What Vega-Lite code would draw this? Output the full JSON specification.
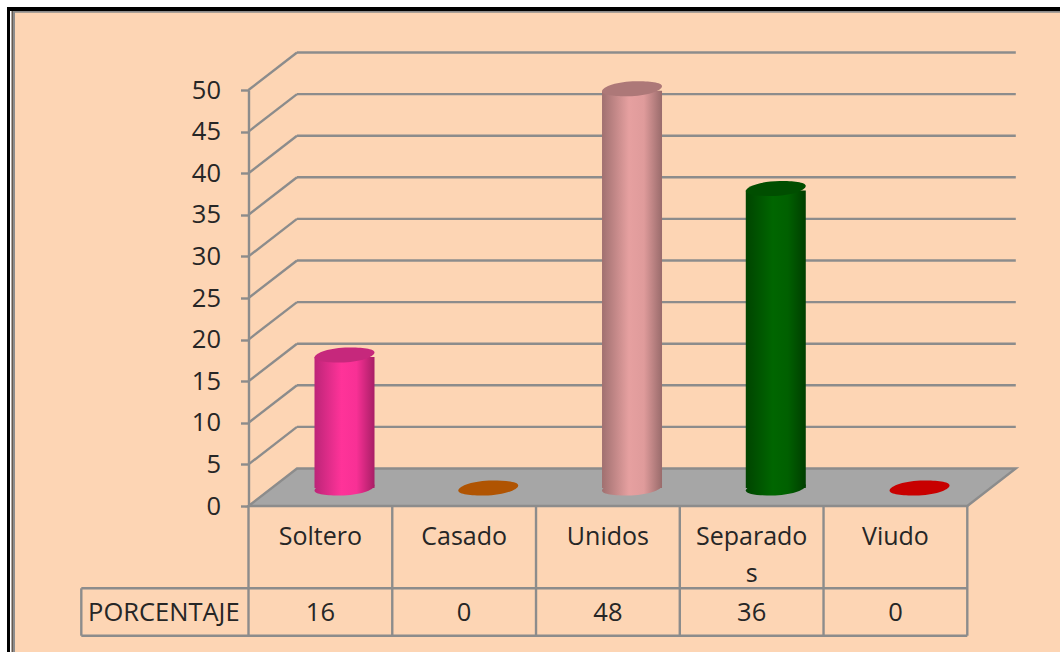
{
"$schema":"https://vega.github.io/schema/vega-lite/v6.json",
"width":718.8,"height":416,"autosize":"none",
"padding":{"left":248.5,"top":90,"right":92.7,"bottom":146},
"background":"#FDD5B4",
"config":{"view":{"stroke":null}},
"datasets":{
"cats":[
{"cat":"Soltero","label":"Soltero","i":0,"pct":16},
{"cat":"Casado","label":"Casado","i":1,"pct":0},
{"cat":"Unidos","label":"Unidos","i":2,"pct":48},
{"cat":"Separados","label":"Separado\ns","i":3,"pct":36},
{"cat":"Viudo","label":"Viudo","i":4,"pct":0}],
"ticks":[{"v":0},{"v":5},{"v":10},{"v":15},{"v":20},{"v":25},{"v":30},{"v":35},{"v":40},{"v":45},{"v":50}],
"seps":[{"i":0},{"i":1},{"i":2},{"i":3},{"i":4},{"i":5}],
"one":[{}]
},
"data":{"name":"one"},
"layer":[
{"data":{"name":"ticks"},"transform":[{"filter":"datum.v>0"}],
 "mark":{"type":"rule","stroke":"#8C8C8C","strokeWidth":2.4,"y2Offset":-37.5,"x2Offset":48.5},
 "encoding":{"x":{"datum":0,"type":"quantitative","axis":null,"scale":{"domain":[0,5],"nice":false,"zero":false}},"x2":{"datum":0},
 "y":{"field":"v","type":"quantitative","scale":{"domain":[0,50],"nice":false,"zero":false},
 "axis":{"title":null,"values":[0,5,10,15,20,25,30,35,40,45,50],"grid":false,"domain":true,"domainColor":"#8C8C8C","domainWidth":2.4,"tickColor":"#8C8C8C","tickWidth":2.4,"tickSize":8,"labelFont":"Open Sans","labelFontSize":25.5,"labelColor":"#262626","labelPadding":20,"labelOverlap":false,"labelBound":false,"labelFlush":false}},"y2":{"field":"v"}}},
{"data":{"name":"ticks"},"transform":[{"filter":"datum.v>0"}],
 "mark":{"type":"rule","stroke":"#8C8C8C","strokeWidth":2.4,"yOffset":-37.5},
 "encoding":{"x":{"datum":0.3374,"type":"quantitative","axis":null,"scale":{"domain":[0,5],"nice":false,"zero":false}},"x2":{"datum":5.3374},
 "y":{"field":"v","type":"quantitative","scale":{"domain":[0,50],"nice":false,"zero":false}}}},
{"mark":{"type":"point","shape":"M0,0 L48.5,-37.5 L767.3,-37.5 L718.8,0 Z","size":4,"filled":true,"fill":"#A6A6A6","stroke":"#8C8C8C","strokeWidth":2.4,"opacity":1},
 "encoding":{"x":{"datum":0,"type":"quantitative","axis":null,"scale":{"domain":[0,5],"nice":false,"zero":false}},
 "y":{"datum":0,"type":"quantitative","scale":{"domain":[0,50],"nice":false,"zero":false}}}},
{"data":{"name":"seps"},
 "mark":{"type":"rule","stroke":"#8C8C8C","strokeWidth":2.4},
 "encoding":{"x":{"field":"i","type":"quantitative","axis":null,"scale":{"domain":[0,5],"nice":false,"zero":false}},
 "y":{"datum":0,"type":"quantitative","scale":{"domain":[0,50],"nice":false,"zero":false}},"y2":{"datum":-15.59}}},
{"mark":{"type":"rule","stroke":"#8C8C8C","strokeWidth":2.4},
 "encoding":{"x":{"datum":-1.163,"type":"quantitative","axis":null,"scale":{"domain":[0,5],"nice":false,"zero":false}},
 "y":{"datum":-9.89,"type":"quantitative","scale":{"domain":[0,50],"nice":false,"zero":false}},"y2":{"datum":-15.59}}},
{"mark":{"type":"rule","stroke":"#8C8C8C","strokeWidth":2.4},
 "encoding":{"x":{"datum":-1.163,"type":"quantitative","axis":null,"scale":{"domain":[0,5],"nice":false,"zero":false}},"x2":{"datum":5},
 "y":{"datum":-9.89,"type":"quantitative","scale":{"domain":[0,50],"nice":false,"zero":false}}}},
{"mark":{"type":"rule","stroke":"#8C8C8C","strokeWidth":2.4},
 "encoding":{"x":{"datum":-1.163,"type":"quantitative","axis":null,"scale":{"domain":[0,5],"nice":false,"zero":false}},"x2":{"datum":5},
 "y":{"datum":-15.59,"type":"quantitative","scale":{"domain":[0,50],"nice":false,"zero":false}}}},
{"data":{"name":"cats"},"transform":[{"filter":"datum.cat==='Soltero'"}],
 "mark":{"type":"point","shape":"M-30,2.5 C-30,-2 -14,-7.5 4,-7.5 C17,-7.5 30,-6.5 30,-2.5 C30,2 14,7.5 -4,7.5 C-17,7.5 -30,6.5 -30,2.5 Z","size":4,"filled":true,"opacity":1,"xOffset":96,"yOffset":-18,"fill":{"gradient":"linear","x1":0,"y1":0,"x2":1,"y2":0,"stops":[{"offset":0,"color":"#BC2578"},{"offset":0.45,"color":"#FF3399"},{"offset":0.7,"color":"#F83095"},{"offset":1,"color":"#A81E66"}]}},
 "encoding":{"x":{"field":"i","type":"quantitative","axis":null,"scale":{"domain":[0,5],"nice":false,"zero":false}},
 "y":{"datum":0,"type":"quantitative","scale":{"domain":[0,50],"nice":false,"zero":false}}}},
{"data":{"name":"cats"},"transform":[{"filter":"datum.cat==='Soltero'"}],
 "mark":{"type":"rect","xOffset":66,"x2Offset":126,"yOffset":-16,"y2Offset":-18,"fill":{"gradient":"linear","x1":0,"y1":0,"x2":1,"y2":0,"stops":[{"offset":0,"color":"#BC2578"},{"offset":0.45,"color":"#FF3399"},{"offset":0.7,"color":"#F83095"},{"offset":1,"color":"#A81E66"}]}},
 "encoding":{"x":{"field":"i","type":"quantitative","axis":null,"scale":{"domain":[0,5],"nice":false,"zero":false}},"x2":{"field":"i"},
 "y":{"field":"pct","type":"quantitative","scale":{"domain":[0,50],"nice":false,"zero":false}},"y2":{"datum":0}}},
{"data":{"name":"cats"},"transform":[{"filter":"datum.cat==='Unidos'"}],
 "mark":{"type":"point","shape":"M-30,2.5 C-30,-2 -14,-7.5 4,-7.5 C17,-7.5 30,-6.5 30,-2.5 C30,2 14,7.5 -4,7.5 C-17,7.5 -30,6.5 -30,2.5 Z","size":4,"filled":true,"opacity":1,"xOffset":96,"yOffset":-18,"fill":{"gradient":"linear","x1":0,"y1":0,"x2":1,"y2":0,"stops":[{"offset":0,"color":"#A07070"},{"offset":0.45,"color":"#E6A0A0"},{"offset":0.7,"color":"#DF9B9B"},{"offset":1,"color":"#996B6B"}]}},
 "encoding":{"x":{"field":"i","type":"quantitative","axis":null,"scale":{"domain":[0,5],"nice":false,"zero":false}},
 "y":{"datum":0,"type":"quantitative","scale":{"domain":[0,50],"nice":false,"zero":false}}}},
{"data":{"name":"cats"},"transform":[{"filter":"datum.cat==='Unidos'"}],
 "mark":{"type":"rect","xOffset":66,"x2Offset":126,"yOffset":-16,"y2Offset":-18,"fill":{"gradient":"linear","x1":0,"y1":0,"x2":1,"y2":0,"stops":[{"offset":0,"color":"#A07070"},{"offset":0.45,"color":"#E6A0A0"},{"offset":0.7,"color":"#DF9B9B"},{"offset":1,"color":"#996B6B"}]}},
 "encoding":{"x":{"field":"i","type":"quantitative","axis":null,"scale":{"domain":[0,5],"nice":false,"zero":false}},"x2":{"field":"i"},
 "y":{"field":"pct","type":"quantitative","scale":{"domain":[0,50],"nice":false,"zero":false}},"y2":{"datum":0}}},
{"data":{"name":"cats"},"transform":[{"filter":"datum.cat==='Separados'"}],
 "mark":{"type":"point","shape":"M-30,2.5 C-30,-2 -14,-7.5 4,-7.5 C17,-7.5 30,-6.5 30,-2.5 C30,2 14,7.5 -4,7.5 C-17,7.5 -30,6.5 -30,2.5 Z","size":4,"filled":true,"opacity":1,"xOffset":96,"yOffset":-18,"fill":{"gradient":"linear","x1":0,"y1":0,"x2":1,"y2":0,"stops":[{"offset":0,"color":"#004400"},{"offset":0.45,"color":"#006600"},{"offset":0.7,"color":"#006000"},{"offset":1,"color":"#003E00"}]}},
 "encoding":{"x":{"field":"i","type":"quantitative","axis":null,"scale":{"domain":[0,5],"nice":false,"zero":false}},
 "y":{"datum":0,"type":"quantitative","scale":{"domain":[0,50],"nice":false,"zero":false}}}},
{"data":{"name":"cats"},"transform":[{"filter":"datum.cat==='Separados'"}],
 "mark":{"type":"rect","xOffset":66,"x2Offset":126,"yOffset":-16,"y2Offset":-18,"fill":{"gradient":"linear","x1":0,"y1":0,"x2":1,"y2":0,"stops":[{"offset":0,"color":"#004400"},{"offset":0.45,"color":"#006600"},{"offset":0.7,"color":"#006000"},{"offset":1,"color":"#003E00"}]}},
 "encoding":{"x":{"field":"i","type":"quantitative","axis":null,"scale":{"domain":[0,5],"nice":false,"zero":false}},"x2":{"field":"i"},
 "y":{"field":"pct","type":"quantitative","scale":{"domain":[0,50],"nice":false,"zero":false}},"y2":{"datum":0}}},
{"data":{"name":"cats"},
 "mark":{"type":"point","shape":"M-30,2.5 C-30,-2 -14,-7.5 4,-7.5 C17,-7.5 30,-6.5 30,-2.5 C30,2 14,7.5 -4,7.5 C-17,7.5 -30,6.5 -30,2.5 Z","size":4,"filled":true,"opacity":1,"xOffset":96,"yOffset":-18},
 "encoding":{"x":{"field":"i","type":"quantitative","axis":null,"scale":{"domain":[0,5],"nice":false,"zero":false}},
 "y":{"field":"pct","type":"quantitative","scale":{"domain":[0,50],"nice":false,"zero":false}},
 "color":{"field":"cat","type":"nominal","legend":null,"scale":{"domain":["Soltero","Casado","Unidos","Separados","Viudo"],"range":["#C6287C","#B05402","#AD7878","#004E00","#C80000"]}}}},
{"data":{"name":"cats"},
 "mark":{"type":"text","font":"Open Sans","fontSize":25,"fill":"#262626","align":"center","baseline":"alphabetic","xOffset":71.9,"lineBreak":"\n","lineHeight":37},
 "encoding":{"x":{"field":"i","type":"quantitative","axis":null,"scale":{"domain":[0,5],"nice":false,"zero":false}},
 "y":{"datum":-4.69,"type":"quantitative","scale":{"domain":[0,50],"nice":false,"zero":false}},
 "text":{"field":"label"}}},
{"data":{"name":"cats"},
 "mark":{"type":"text","font":"Open Sans","fontSize":25.5,"fill":"#262626","align":"center","baseline":"alphabetic","xOffset":71.9},
 "encoding":{"x":{"field":"i","type":"quantitative","axis":null,"scale":{"domain":[0,5],"nice":false,"zero":false}},
 "y":{"datum":-13.79,"type":"quantitative","scale":{"domain":[0,50],"nice":false,"zero":false}},
 "text":{"field":"pct","type":"quantitative"}}},
{"mark":{"type":"text","font":"Open Sans","fontSize":25.5,"fill":"#262626","align":"left","baseline":"alphabetic"},
 "encoding":{"x":{"datum":-1.116,"type":"quantitative","axis":null,"scale":{"domain":[0,5],"nice":false,"zero":false}},
 "y":{"datum":-13.79,"type":"quantitative","scale":{"domain":[0,50],"nice":false,"zero":false}},
 "text":{"value":"PORCENTAJE"}}},
{"mark":{"type":"rect","fill":"#FFFFFF"},"encoding":{"x":{"datum":-1.7286,"type":"quantitative","axis":null,"scale":{"domain":[0,5],"nice":false,"zero":false}},"x2":{"datum":5.6448},"y":{"datum":60.817,"type":"quantitative","scale":{"domain":[0,50],"nice":false,"zero":false}},"y2":{"datum":59.976}}},
{"mark":{"type":"rect","fill":"#FFFFFF"},"encoding":{"x":{"datum":-1.7286,"type":"quantitative","axis":null,"scale":{"domain":[0,5],"nice":false,"zero":false}},"x2":{"datum":-1.6799},"y":{"datum":60.817,"type":"quantitative","scale":{"domain":[0,50],"nice":false,"zero":false}},"y2":{"datum":-17.548}}},
{"mark":{"type":"rect","fill":"#000000"},"encoding":{"x":{"datum":-1.6799,"type":"quantitative","axis":null,"scale":{"domain":[0,5],"nice":false,"zero":false}},"x2":{"datum":5.6448},"y":{"datum":59.976,"type":"quantitative","scale":{"domain":[0,50],"nice":false,"zero":false}},"y2":{"datum":59.495}}},
{"mark":{"type":"rect","fill":"#8C8C8C"},"encoding":{"x":{"datum":-1.6403,"type":"quantitative","axis":null,"scale":{"domain":[0,5],"nice":false,"zero":false}},"x2":{"datum":5.6448},"y":{"datum":59.495,"type":"quantitative","scale":{"domain":[0,50],"nice":false,"zero":false}},"y2":{"datum":59.291}}},
{"mark":{"type":"rect","fill":"#000000"},"encoding":{"x":{"datum":-1.6799,"type":"quantitative","axis":null,"scale":{"domain":[0,5],"nice":false,"zero":false}},"x2":{"datum":-1.659},"y":{"datum":59.976,"type":"quantitative","scale":{"domain":[0,50],"nice":false,"zero":false}},"y2":{"datum":-17.548}}},
{"mark":{"type":"rect","fill":"#FFFFFF"},"encoding":{"x":{"datum":-1.659,"type":"quantitative","axis":null,"scale":{"domain":[0,5],"nice":false,"zero":false}},"x2":{"datum":-1.6472},"y":{"datum":59.495,"type":"quantitative","scale":{"domain":[0,50],"nice":false,"zero":false}},"y2":{"datum":-17.548}}},
{"mark":{"type":"rect","fill":"#000000"},"encoding":{"x":{"datum":-1.6472,"type":"quantitative","axis":null,"scale":{"domain":[0,5],"nice":false,"zero":false}},"x2":{"datum":-1.6403},"y":{"datum":59.495,"type":"quantitative","scale":{"domain":[0,50],"nice":false,"zero":false}},"y2":{"datum":-17.548}}},
{"mark":{"type":"rect","fill":"#8C8C8C"},"encoding":{"x":{"datum":-1.6403,"type":"quantitative","axis":null,"scale":{"domain":[0,5],"nice":false,"zero":false}},"x2":{"datum":-1.6242},"y":{"datum":59.495,"type":"quantitative","scale":{"domain":[0,50],"nice":false,"zero":false}},"y2":{"datum":-17.548}}}
]
}
